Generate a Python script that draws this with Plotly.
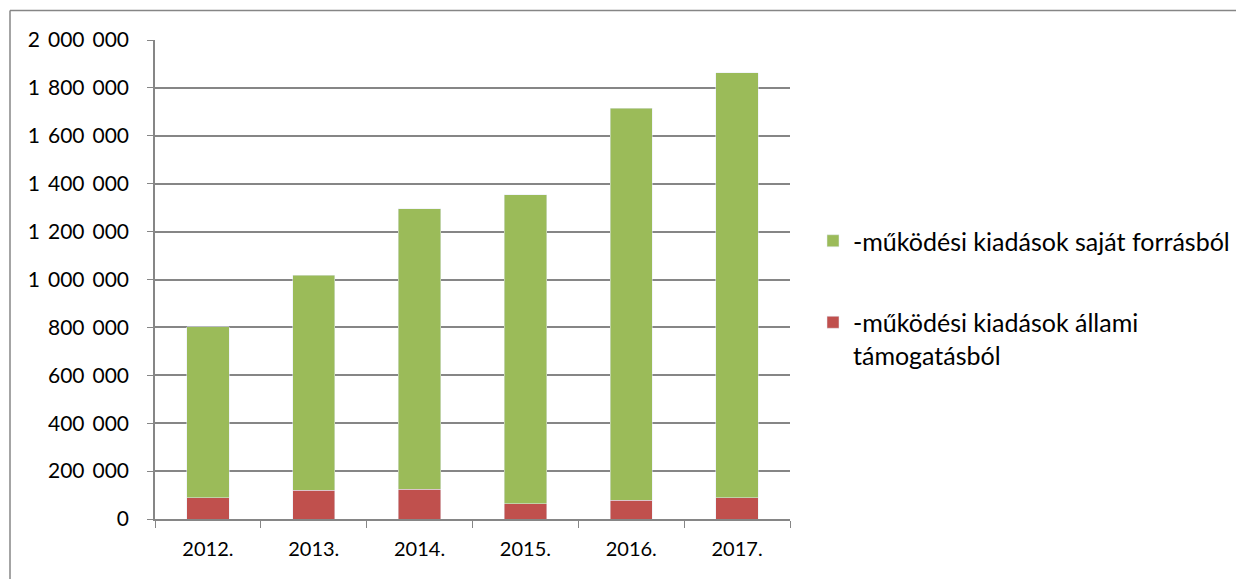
import plotly.graph_objects as go

years = ["2012.", "2013.", "2014.", "2015.", "2016.", "2017."]
allami = [88000, 121000, 124000, 64000, 79000, 88000]
sajat = [714000, 896000, 1172000, 1290000, 1637000, 1776000]
name_sajat = "-működési kiadások saját forrásból"
name_allami = "-működési kiadások állami<br>támogatásból"
yticks = [0, 200000, 400000, 600000, 800000, 1000000, 1200000, 1400000, 1600000, 1800000, 2000000]
ytick_text = ["0", "200 000", "400 000", "600 000", "800 000", "1 000 000", "1 200 000",
              "1 400 000", "1 600 000", "1 800 000", "2 000 000"]

FONT = "Lato"
W, H = 1244, 579
L, T, PW, PH = 147, 32, 635, 479   # page is offset ~8px by body margin

fig = go.Figure()
fig.add_trace(go.Bar(x=years, y=allami, name=name_allami, marker_color="#C0504D",
                     legendgroup="b", legendrank=2, width=0.4))
fig.add_trace(go.Bar(x=years, y=sajat, name=name_sajat, marker_color="#9BBB59",
                     legendgroup="a", legendrank=1, width=0.4))

ytext = [t.replace(" ", "\u00a0\u2009") for t in ytick_text]

def px(xf):
    return (xf - L) / PW

def py(yf):
    return 1 - (yf - T) / PH

fig.update_layout(
    width=W, height=H,
    margin=dict(l=L, r=W - L - PW, t=T, b=H - T - PH),
    barmode="stack",
    paper_bgcolor="white", plot_bgcolor="white",
    font=dict(family=FONT, size=20, color="black"),
    showlegend=True,
    legend=dict(traceorder="grouped", x=px(805), y=py(210), xanchor="left",
                yanchor="top", tracegroupgap=46, valign="top",
                font=dict(family=FONT, size=25, color="black"),
                itemwidth=30, bgcolor="rgba(0,0,0,0)"),
    xaxis=dict(type="category", tickson="boundaries", ticks="outside", ticklen=7,
               tickcolor="#868686", showline=True, linecolor="#868686", linewidth=1.5,
               showgrid=False, tickfont=dict(family=FONT, size=20), range=[-0.5, 5.5],
               ticklabelstandoff=11),
    yaxis=dict(range=[0, 2000000], tickvals=yticks, ticktext=ytext, ticks="outside",
               ticklen=6, tickcolor="#868686", showline=True, linecolor="#868686",
               linewidth=1.5, showgrid=True, gridcolor="#868686", gridwidth=1.5,
               zeroline=False, tickfont=dict(family=FONT, size=21), ticklabelstandoff=14),
    shapes=[
        dict(type="line", xref="paper", yref="paper", x0=px(2), x1=px(W),
             y0=py(2.5), y1=py(2.5), line=dict(color="#868686", width=1.5)),
        dict(type="line", xref="paper", yref="paper", x0=px(2), x1=px(2),
             y0=py(2.5), y1=py(H), line=dict(color="#868686", width=1.5)),
    ],
)
fig.write_html("out.html")
